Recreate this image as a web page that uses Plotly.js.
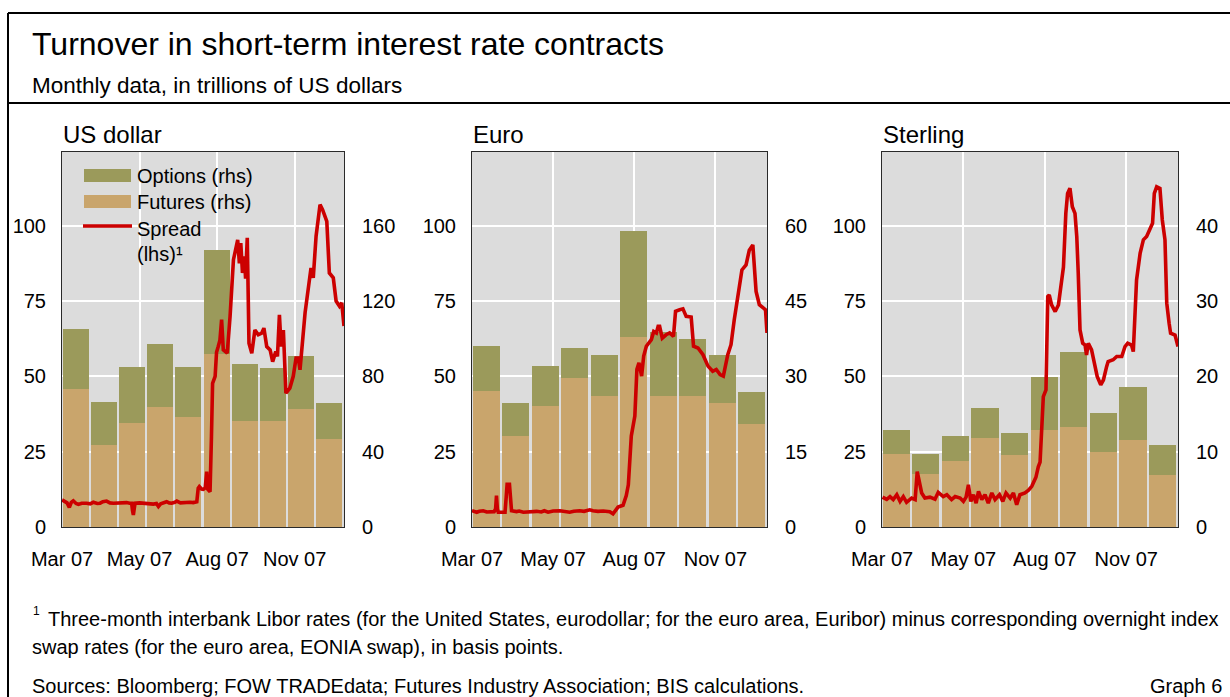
<!DOCTYPE html>
<html><head><meta charset="utf-8">
<script src="https://cdn.plot.ly/plotly-3.0.1.min.js"></script>
<style>html,body{margin:0;padding:0;background:#fff}#chart{width:1230px;height:697px}</style>
</head><body><div id="chart"></div><script>
// ---------- DATA ----------
// bars: monthly turnover (rhs), x = months since March 2007 (0 = Mar 07 ... 9 = Dec 07)
const barX = [0, 1, 2, 3, 4, 5, 6, 7, 8, 9];
const barMonths = ['Mar 07','Apr 07','May 07','Jun 07','Jul 07','Aug 07','Sep 07','Oct 07','Nov 07','Dec 07'];
const tickVals = [0, 2.75, 5.5, 8.25];
const tickText = ['Mar 07', 'May 07', 'Aug 07', 'Nov 07'];
const leftTicks = [0, 25, 50, 75, 100];

const usdFutures = [73.4, 43.7, 55.0, 63.5, 58.6, 92.0, 56.3, 56.3, 62.4, 46.9];
const usdOptions = [31.7, 22.7, 30.0, 33.8, 26.4, 55.0, 30.3, 28.2, 28.5, 19.0];
const usdRightTicks = [0, 40, 80, 120, 160];

const eurFutures = [27.1, 18.2, 24.1, 29.6, 26.1, 37.8, 26.1, 26.1, 24.7, 20.5];
const eurOptions = [8.9, 6.5, 7.9, 6.0, 8.1, 21.1, 12.8, 11.3, 9.5, 6.4];
const eurRightTicks = [0, 15, 30, 45, 60];

const gbpFutures = [9.7, 7.1, 8.7, 11.8, 9.6, 12.9, 13.3, 9.9, 11.6, 6.9];
const gbpOptions = [3.2, 2.6, 3.4, 4.0, 2.9, 7.0, 9.9, 5.3, 7.0, 4.0];
const gbpRightTicks = [0, 10, 20, 30, 40];

// spread (lhs, basis points); x = months since 1 March 2007
const usdSpreadX = [0.00,0.11,0.18,0.26,0.33,0.40,0.50,0.58,0.70,0.87,1.00,1.11,1.25,1.35,1.45,1.58,1.70,1.82,2.00,2.15,2.29,2.40,2.47,2.50,2.53,2.56,2.59,2.75,2.89,3.05,3.24,3.35,3.42,3.50,3.60,3.71,3.80,3.89,4.00,4.07,4.20,4.30,4.42,4.54,4.65,4.72,4.78,4.83,4.87,4.95,5.01,5.08,5.13,5.17,5.25,5.30,5.34,5.43,5.48,5.54,5.60,5.66,5.69,5.72,5.86,5.96,6.08,6.17,6.23,6.29,6.34,6.40,6.47,6.51,6.57,6.63,6.73,6.84,6.96,7.08,7.16,7.26,7.38,7.47,7.58,7.64,7.71,7.77,7.85,7.94,8.08,8.20,8.30,8.38,8.44,8.62,8.74,8.83,8.91,9.01,9.15,9.24,9.39,9.48,9.62,9.72,9.84,9.92,10.0];
const usdSpread  = [9.0,8.4,8.0,6.5,8.2,8.7,7.8,7.5,7.9,7.9,7.7,8.2,7.8,7.9,8.4,8.6,8.0,7.9,8.0,7.8,8.1,7.9,7.9,5.5,4.0,6.0,7.9,8.0,7.9,7.7,7.6,7.8,6.8,7.7,8.0,8.4,8.0,7.9,8.2,8.6,8.0,8.1,8.0,8.2,8.1,8.3,8.4,12.9,13.4,12.6,12.5,13.0,18.4,12.5,11.7,30.0,47.7,50.0,58.0,59.9,62.0,68.8,63.0,58.8,57.7,69.9,88.7,92.0,95.3,87.5,94.2,84.3,89.8,82.4,96.0,61.0,57.7,65.4,63.8,64.3,66.0,59.9,58.8,54.9,58.2,56.6,70.4,59.9,65.4,44.4,46.1,50.0,56.1,56.1,52.2,71.1,80.5,86.0,82.7,96.5,107.0,105.3,101.4,84.3,82.7,75.0,73.3,74.4,66.7];

const eurSpreadX = [0.00,0.08,0.16,0.25,0.38,0.50,0.61,0.75,0.80,0.83,0.86,0.89,1.00,1.12,1.16,1.19,1.27,1.31,1.34,1.51,1.60,1.74,1.90,2.05,2.19,2.35,2.45,2.58,2.75,2.98,3.15,3.31,3.45,3.65,3.80,3.99,4.10,4.27,4.45,4.56,4.67,4.78,4.89,4.95,5.12,5.23,5.30,5.35,5.40,5.52,5.59,5.66,5.75,5.82,5.91,6.08,6.16,6.25,6.31,6.36,6.45,6.58,6.70,6.83,6.90,7.04,7.15,7.26,7.43,7.51,7.66,7.83,8.00,8.16,8.28,8.41,8.52,8.67,8.78,8.89,9.00,9.15,9.29,9.40,9.52,9.57,9.63,9.74,9.86,9.95,10.0];
const eurSpread  = [5.4,5.0,4.9,5.2,5.4,5.0,5.1,5.1,6.0,10.4,6.0,4.9,4.9,4.9,10.0,14.2,14.2,8.0,5.4,5.1,5.3,4.9,5.0,5.3,5.2,5.0,5.4,4.9,5.3,5.4,5.0,4.9,5.2,5.4,5.2,5.7,5.4,5.2,5.3,5.1,5.1,4.4,6.2,6.6,7.2,10.4,14.0,22.0,30.2,36.8,52.3,54.5,50.1,56.7,60.0,62.2,64.9,64.4,66.6,66.6,62.7,63.8,64.4,63.3,71.6,72.1,72.4,69.9,69.7,60.0,59.4,57.2,53.4,51.7,52.3,50.6,50.1,57.2,60.5,68.8,76.5,85.3,87.0,91.9,93.6,87.5,78.2,73.8,72.7,72.1,64.4];

const gbpSpreadX = [0.02,0.16,0.27,0.38,0.50,0.61,0.72,0.83,1.00,1.12,1.19,1.26,1.34,1.45,1.62,1.79,1.90,2.07,2.19,2.35,2.47,2.64,2.75,2.84,2.92,3.00,3.09,3.18,3.26,3.37,3.48,3.59,3.71,3.82,3.97,4.08,4.19,4.33,4.44,4.55,4.66,4.83,4.95,5.06,5.20,5.28,5.34,5.45,5.54,5.60,5.65,5.73,5.85,5.96,6.07,6.13,6.21,6.27,6.35,6.43,6.52,6.58,6.63,6.69,6.78,6.86,6.91,6.97,7.08,7.19,7.27,7.39,7.48,7.59,7.64,7.81,7.93,8.10,8.21,8.30,8.43,8.49,8.55,8.60,8.72,8.83,8.94,9.05,9.14,9.20,9.28,9.39,9.47,9.56,9.62,9.70,9.75,9.90,10.0];
const gbpSpread  = [9.9,9.2,10.1,9.1,10.7,8.5,10.1,8.2,9.6,9.1,18.4,14.6,11.3,9.6,9.9,9.2,11.5,10.1,10.7,9.1,10.1,9.6,8.5,9.9,14.0,8.5,10.7,7.9,11.8,9.1,10.7,7.9,11.3,9.1,10.7,8.5,11.3,9.6,11.3,7.4,10.7,11.3,12.2,13.5,16.5,20.0,21.5,43.3,45.5,76.5,77.0,73.7,71.5,73.7,80.8,86.3,104.1,110.7,112.4,106.3,104.1,96.4,84.2,65.4,61.0,60.4,57.1,61.0,58.8,53.8,50.0,47.2,48.8,53.3,54.9,55.5,56.6,56.6,59.9,61.0,60.4,58.2,69.8,82.0,90.8,95.3,96.4,98.6,100.8,110.7,112.9,112.4,101.9,95.3,74.3,67.6,64.3,63.7,59.9];

// ---------- STYLE ----------
const W = 1230, H = 697;
const FONT = 'Liberation Sans, Arial, Helvetica, sans-serif';
const OLIVE = '#9b9a5b', TAN = '#c9a56c', RED = '#cc0000', BG = '#dcdcdc', FRAME = '#2a2a2a';
const px = v => v / W, py = v => 1 - v / H;

const panels = [
  {name: 'US dollar', fut: usdFutures, opt: usdOptions, sx: usdSpreadX, sy: usdSpread, rt: usdRightTicks, left: 62, right: 344},
  {name: 'Euro', fut: eurFutures, opt: eurOptions, sx: eurSpreadX, sy: eurSpread, rt: eurRightTicks, left: 472, right: 767},
  {name: 'Sterling', fut: gbpFutures, opt: gbpOptions, sx: gbpSpreadX, sy: gbpSpread, rt: gbpRightTicks, left: 882, right: 1178}
];
const plotTop = 152, plotBot = 527, hundredY = 225.7;
const leftMax = 100 * (plotBot - plotTop) / (plotBot - hundredY);

const data = [];
const layout = {
  width: W, height: H, margin: {l: 0, r: 0, t: 0, b: 0},
  paper_bgcolor: '#ffffff', plot_bgcolor: BG,
  showlegend: false, barmode: 'stack',
  font: {family: FONT, size: 20, color: '#000'},
  shapes: [], annotations: []
};

panels.forEach((p, i) => {
  const xid = i === 0 ? 'x' : 'x' + (i + 1);
  const yb = 'y' + (i === 0 ? '' : (2 * i + 1));
  const yo = 'y' + (2 * i + 2);
  const xName = 'xaxis' + (i === 0 ? '' : (i + 1));
  const ybName = 'yaxis' + (i === 0 ? '' : (2 * i + 1));
  const yoName = 'yaxis' + (2 * i + 2);
  const rightMax = leftMax * p.rt[4] / 100;
  data.push({type: 'bar', name: 'Futures (rhs)', x: barX, y: p.fut, text: barMonths, xaxis: xid, yaxis: yb,
    width: 0.92, offset: 0.02, marker: {color: TAN, line: {width: 0}}, textposition: 'none', hoverinfo: 'text+y'});
  data.push({type: 'bar', name: 'Options (rhs)', x: barX, y: p.opt, text: barMonths, xaxis: xid, yaxis: yb,
    width: 0.92, offset: 0.02, marker: {color: OLIVE, line: {width: 0}}, textposition: 'none', hoverinfo: 'text+y'});
  data.push({type: 'scatter', mode: 'lines', name: 'Spread (lhs)', x: p.sx, y: p.sy, xaxis: xid, yaxis: yo,
    line: {color: RED, width: 3.6}});
  layout[xName] = {domain: [px(p.left), px(p.right)], anchor: yb, range: [0, 10],
    tickmode: 'array', tickvals: tickVals, ticktext: tickText, ticks: '', ticklabelstandoff: 14,
    showgrid: true, gridcolor: '#ffffff', gridwidth: 2, zeroline: false,
    showline: true, mirror: true, linecolor: FRAME, linewidth: 1, fixedrange: true,
    tickfont: {size: 20}};
  layout[ybName] = {domain: [py(plotBot), py(plotTop)], anchor: xid, side: 'right', range: [0, rightMax],
    tickmode: 'array', tickvals: p.rt, ticks: '', ticklabelstandoff: 13,
    showgrid: true, gridcolor: '#ffffff', gridwidth: 2, zeroline: false,
    showline: true, mirror: true, linecolor: FRAME, linewidth: 1, fixedrange: true,
    tickfont: {size: 20}};
  layout[yoName] = {overlaying: yb, anchor: xid, side: 'left', range: [0, leftMax],
    tickmode: 'array', tickvals: leftTicks, ticks: '', ticklabelstandoff: 15,
    showgrid: false, zeroline: false, showline: false, fixedrange: true,
    tickfont: {size: 20}};
  layout.annotations.push({xref: 'paper', yref: 'paper', x: px(p.left - 1), y: py(134), xanchor: 'left', yanchor: 'middle',
    text: p.name, showarrow: false, font: {size: 24}});
});

// frame
const frameLine = {type: 'line', xref: 'paper', yref: 'paper', line: {color: '#000', width: 2}};
layout.shapes.push(Object.assign({}, frameLine, {x0: px(8), x1: px(1232), y0: py(13), y1: py(13)}));
layout.shapes.push(Object.assign({}, frameLine, {x0: px(8), x1: px(8), y0: py(13), y1: py(700)}));
layout.shapes.push(Object.assign({}, frameLine, {x0: px(8), x1: px(1232), y0: py(103), y1: py(103)}));

// legend (panel 1)
layout.shapes.push({type: 'rect', xref: 'paper', yref: 'paper', x0: px(84), x1: px(131), y0: py(169), y1: py(182), fillcolor: OLIVE, line: {width: 0}});
layout.shapes.push({type: 'rect', xref: 'paper', yref: 'paper', x0: px(84), x1: px(131), y0: py(195), y1: py(208), fillcolor: TAN, line: {width: 0}});
layout.shapes.push({type: 'line', xref: 'paper', yref: 'paper', x0: px(83), x1: px(132), y0: py(226), y1: py(226), line: {color: RED, width: 3.6}});
const legTxt = (t, y) => ({xref: 'paper', yref: 'paper', x: px(135), y: py(y), xanchor: 'left', yanchor: 'middle', text: t, showarrow: false, font: {size: 20}});
layout.annotations.push(legTxt('Options (rhs)', 176));
layout.annotations.push(legTxt('Futures (rhs)', 202));
layout.annotations.push(legTxt('Spread', 229));
layout.annotations.push(legTxt('(lhs)¹', 254));

// titles and notes
const txt = (t, x, y, size, anchor) => ({xref: 'paper', yref: 'paper', x: px(x), y: py(y), xanchor: anchor || 'left', yanchor: 'middle', text: t, showarrow: false, font: {size: size}});
layout.annotations.push(txt('Turnover in short-term interest rate contracts', 30, 44, 32));
layout.annotations.push(txt('Monthly data, in trillions of US dollars', 30, 85, 22.5));
layout.annotations.push(txt('1', 31, 611, 12));
layout.annotations.push(txt('Three-month interbank Libor rates (for the United States, eurodollar; for the euro area, Euribor) minus corresponding overnight index', 46, 619, 20));
layout.annotations.push(txt('swap rates (for the euro area, EONIA swap), in basis points.', 30, 647, 20));
layout.annotations.push(txt('Sources: Bloomberg; FOW TRADEdata; Futures Industry Association; BIS calculations.', 30, 686, 20));
layout.annotations.push(txt('Graph 6', 1224, 686, 20, 'right'));

Plotly.newPlot('chart', data, layout, {staticPlot: true, displayModeBar: false});
</script></body></html>
